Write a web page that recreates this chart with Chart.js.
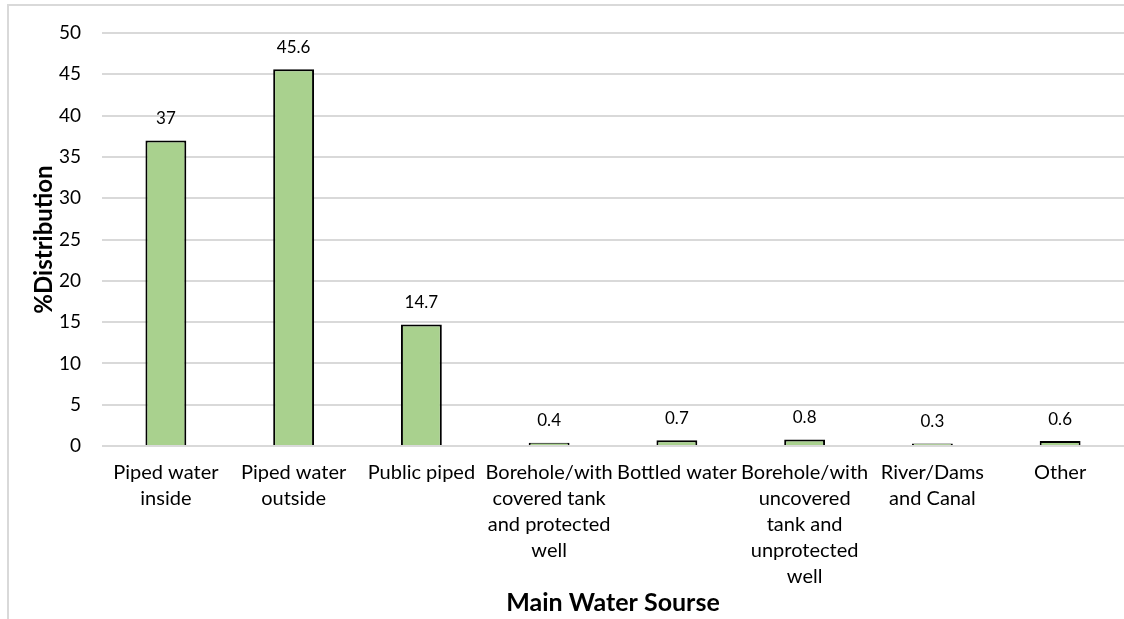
<!DOCTYPE html>
<html>
<head>
<meta charset="utf-8">
<script src="https://cdn.jsdelivr.net/npm/chart.js@4.4.1/dist/chart.umd.min.js"></script>
<style>
  html, body { margin: 0; padding: 0; background: #fff; }
  #wrap { position: relative; width: 1124px; height: 619px; overflow: hidden; }
  #frame {
    position: absolute; left: 7px; top: 4px; width: 1200px; height: 700px;
    border-top: 2px solid #d9d9d9; border-left: 2px solid #d9d9d9;
  }
  #chart { position: absolute; left: 0; top: 0; }
</style>
</head>
<body>
<div id="wrap">
  <div id="frame"></div>
  <canvas id="chart" width="1124" height="619"></canvas>
</div>
<script>
const sources = [
  ["Piped water", "inside"],
  ["Piped water", "outside"],
  "Public piped",
  ["Borehole/with", "covered tank", "and protected", "well"],
  "Bottled water",
  ["Borehole/with", "uncovered", "tank and", "unprotected", "well"],
  ["River/Dams", "and Canal"],
  "Other"
];
const distribution = [37, 45.6, 14.7, 0.4, 0.7, 0.8, 0.3, 0.6];

const FONT = "Lato, Carlito, Calibri, sans-serif";

// writes each bar's value just above it
const valueLabels = {
  id: "valueLabels",
  afterDatasetsDraw(chart) {
    const ctx = chart.ctx;
    const meta = chart.getDatasetMeta(0);
    ctx.save();
    ctx.font = "17px " + FONT;
    ctx.fillStyle = "#000";
    ctx.textAlign = "center";
    ctx.textBaseline = "middle";
    meta.data.forEach((bar, i) => {
      ctx.fillText(String(distribution[i]), bar.x, bar.y - 22);
    });
    ctx.restore();
  }
};

new Chart(document.getElementById("chart"), {
  type: "bar",
  data: {
    labels: sources,
    datasets: [{
      data: distribution,
      backgroundColor: "#a9d18e",
      borderColor: "#000",
      borderWidth: 2,
      categoryPercentage: 1,
      barPercentage: 0.32
    }]
  },
  options: {
    responsive: false,
    animation: false,
    layout: { padding: { top: 33, right: 0, bottom: 0, left: 0 } },
    plugins: {
      legend: { display: false },
      tooltip: { enabled: false }
    },
    scales: {
      x: {
        grid: { display: false, drawTicks: false },
        border: { display: false },
        ticks: {
          color: "#000",
          font: { family: FONT, size: 20, lineHeight: 1.3 },
          maxRotation: 0,
          autoSkip: false,
          padding: 14
        },
        title: {
          display: true,
          text: "Main Water Sourse",
          color: "#000",
          font: { family: FONT, size: 25, weight: "bold" },
          padding: { top: 2, bottom: 1 }
        },
        afterFit(scale) { scale.height = 173; }
      },
      y: {
        min: 0,
        max: 50,
        ticks: {
          stepSize: 5,
          color: "#000",
          font: { family: FONT, size: 19 },
          padding: 21
        },
        grid: { color: "#d9d9d9", lineWidth: 2, drawTicks: false },
        border: { display: false },
        title: {
          display: true,
          text: "%Distribution",
          color: "#000",
          font: { family: FONT, size: 24, weight: "bold" },
          padding: { top: 30, bottom: 0 }
        },
        afterFit(scale) { scale.width = 102; }
      }
    }
  },
  plugins: [valueLabels]
});
</script>
</body>
</html>
